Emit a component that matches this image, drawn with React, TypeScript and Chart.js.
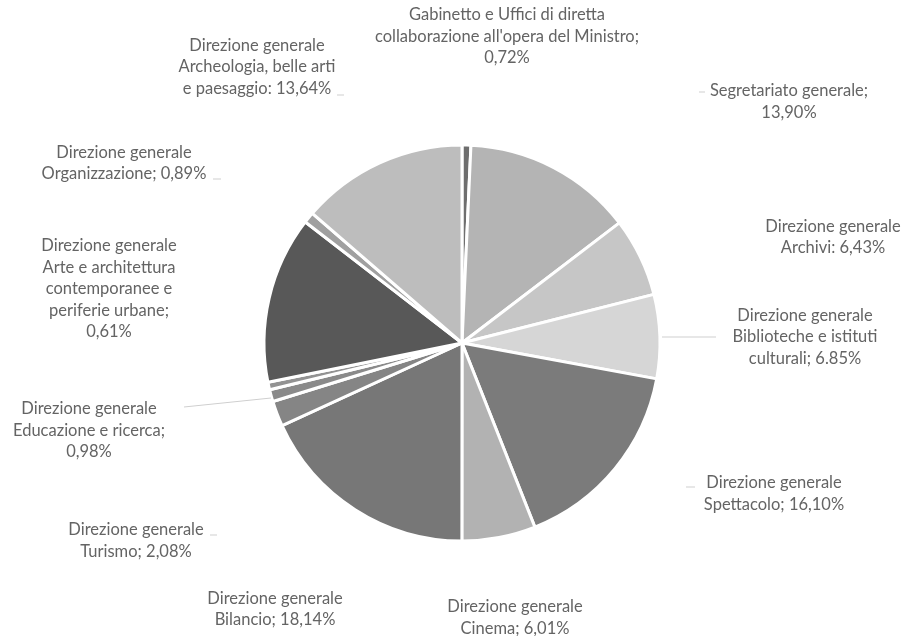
import React, { useEffect, useRef } from "react";
import { Chart, registerables } from "chart.js";

Chart.register(...registerables);

// ---- data ----
const CATEGORIES = [
  "Gabinetto e Uffici di diretta collaborazione all'opera del Ministro",
  "Segretariato generale",
  "Direzione generale Archivi",
  "Direzione generale Biblioteche e istituti culturali",
  "Direzione generale Spettacolo",
  "Direzione generale Cinema",
  "Direzione generale Bilancio",
  "Direzione generale Turismo",
  "Direzione generale Educazione e ricerca",
  "Direzione generale Arte e architettura contemporanee e periferie urbane",
  "Direzione generale Musei",
  "Direzione generale Organizzazione",
  "Direzione generale Archeologia, belle arti e paesaggio",
];
const VALUES = [0.72, 13.9, 6.43, 6.85, 16.1, 6.01, 18.14, 2.08, 0.98, 0.61, 13.65, 0.89, 13.64];
const COLORS = [
  "#6e6e6e", "#b4b4b4", "#c6c6c6", "#d6d6d6", "#7b7b7b", "#b2b2b2", "#777777",
  "#858585", "#8a8a8a", "#929292", "#585858", "#a0a0a0", "#bdbdbd",
];
// label text lines; {v} = value with comma, {v.} = value with dot
const LABEL_LINES: string[][] = [
  ["Gabinetto e Uffici di diretta", "collaborazione all'opera del Ministro;", "{v}"],
  ["Segretariato generale;", "{v}"],
  ["Direzione generale", "Archivi: {v}"],
  ["Direzione generale", "Biblioteche e istituti", "culturali; {v.}"],
  ["Direzione generale", "Spettacolo; {v}"],
  ["Direzione generale", "Cinema; {v}"],
  ["Direzione generale", "Bilancio; {v}"],
  ["Direzione generale", "Turismo; {v}"],
  ["Direzione generale", "Educazione e ricerca;", "{v}"],
  ["Direzione generale", "Arte e architettura", "contemporanee e", "periferie urbane;", "{v}"],
  [],
  ["Direzione generale", "Organizzazione; {v}"],
  ["Direzione generale", "Archeologia, belle arti", "e paesaggio: {v}"],
];

// ---- layout (label block centres relative to pie centre, in px for r=198) ----
const REF_R = 198;
const LABEL_OFFSETS: ([number, number] | null)[] = [
  [45, -306.5],
  [327, -241.5],
  [371, -106],
  [343, -6],
  [312, 150.5],
  [53, 274.5],
  [-187, 266],
  [-326, 197.5],
  [-373, 87.5],
  [-353, -54],
  null,
  [-338, -180],
  [-205, -276],
];
const LEADERS: [number, number, number, number][] = [
  [200, -6, 254, -6],
  [-278, 64, -191, 55],
  [-125, -248, -118, -248],
  [-249, -164, -241, -164],
  [-252, 192, -245, 192],
  [224, 144, 233, 144],
  [237, -251, 243, -251],
];

function fmt(v: number, dot: boolean) {
  const s = v.toFixed(2);
  return (dot ? s : s.replace(".", ",")) + "%";
}

const labelPlugin = {
  id: "pieLabels",
  afterDatasetsDraw(chart: any) {
    const meta = chart.getDatasetMeta(0);
    const arc = meta.data[0];
    if (!arc) return;
    const cx = arc.x;
    const cy = arc.y;
    const k = arc.outerRadius / REF_R;
    const ctx = chart.ctx;
    ctx.save();
    ctx.strokeStyle = "#cfcfcf";
    ctx.lineWidth = 1;
    for (const [x1, y1, x2, y2] of LEADERS) {
      ctx.beginPath();
      ctx.moveTo(cx + x1 * k, cy + y1 * k);
      ctx.lineTo(cx + x2 * k, cy + y2 * k);
      ctx.stroke();
    }
    ctx.font = "16.5px Lato";
    ctx.fillStyle = "#646464";
    ctx.textAlign = "center";
    ctx.textBaseline = "middle";
    const lh = 21.5;
    VALUES.forEach((v, i) => {
      const off = LABEL_OFFSETS[i];
      const lines = LABEL_LINES[i];
      if (!off || !lines.length) return;
      const x = cx + off[0] * k;
      const y0 = cy + off[1] * k - ((lines.length - 1) * lh) / 2;
      lines.forEach((ln, j) => {
        const t = ln.replace("{v.}", fmt(v, true)).replace("{v}", fmt(v, false));
        ctx.fillText(t, x, y0 + j * lh);
      });
    });
    ctx.restore();
  },
};

export default function App() {
  const ref = useRef<HTMLCanvasElement | null>(null);
  useEffect(() => {
    if (!ref.current) return;
    const chart = new Chart(ref.current, {
      type: "pie",
      data: {
        labels: CATEGORIES,
        datasets: [
          {
            data: VALUES,
            backgroundColor: COLORS,
            borderColor: "#ffffff",
            borderWidth: 3,
            radius: 198,
          } as any,
        ],
      },
      options: {
        responsive: false,
        maintainAspectRatio: false,
        devicePixelRatio: 1,
        animation: false,
        layout: { padding: { left: 18, top: 50, right: 0, bottom: 0 } },
        plugins: {
          legend: { display: false },
          tooltip: { enabled: false },
        },
      } as any,
      plugins: [labelPlugin],
    });
    return () => chart.destroy();
  }, []);
  return (
    <div style={{ position: "fixed", left: 0, top: 0, width: 906, height: 636, background: "#fff" }}>
      <canvas ref={ref} width={906} height={636} style={{ display: "block" }} />
    </div>
  );
}
